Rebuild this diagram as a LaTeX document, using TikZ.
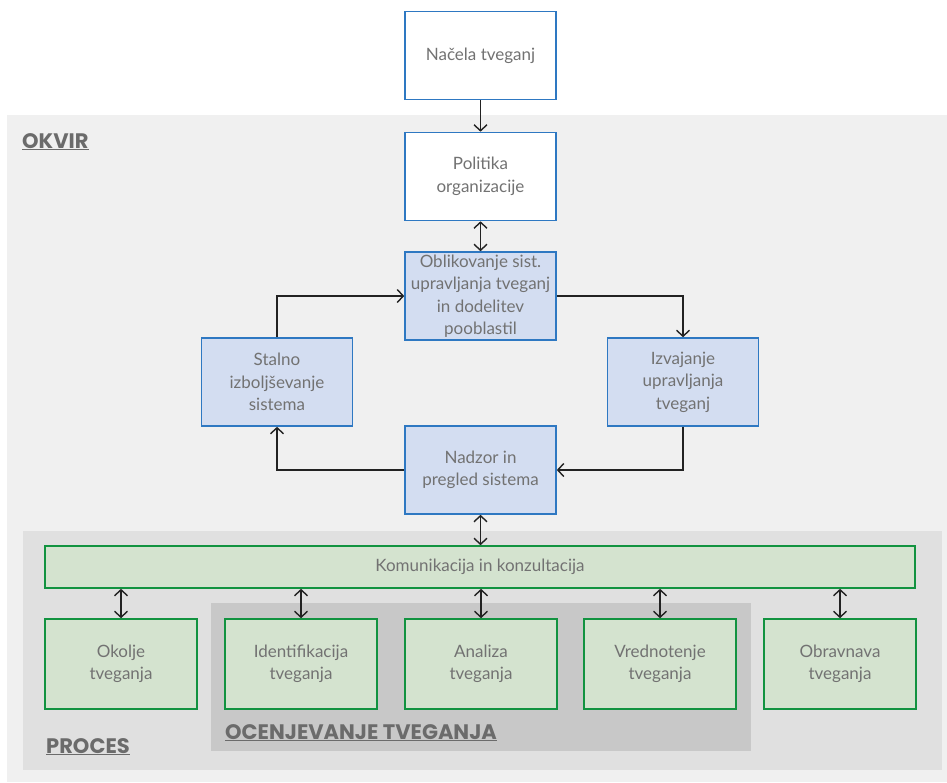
\documentclass[tikz,border=0pt]{standalone}
\usepackage{fontspec}
\setmainfont{Lato}
\newfontfamily\labelfont{Poppins}
\usetikzlibrary{arrows.meta}
\definecolor{okvirbg}{HTML}{F0F0F0}
\definecolor{procesbg}{HTML}{E0E0E0}
\definecolor{ocenbg}{HTML}{C8C8C8}
\definecolor{bluebd}{HTML}{2E78C2}
\definecolor{bluefl}{HTML}{D3DDF1}
\definecolor{greenbd}{HTML}{129340}
\definecolor{greenfl}{HTML}{D4E3CF}
\definecolor{txtgray}{HTML}{727272}
\definecolor{lblgray}{HTML}{6B6B6B}
\definecolor{arrowc}{HTML}{222222}
\tikzset{
  box/.style={draw, line width=1.6pt, minimum width=151pt, minimum height=88pt,
    align=center, text=txtgray, font=\fontsize{17}{22.5}\selectfont, inner sep=2pt},
  whitebox/.style={box, draw=bluebd, fill=white},
  bluebox/.style={box, draw=bluebd, fill=bluefl},
  greenbox/.style={box, draw=greenbd, fill=greenfl, minimum width=152pt, minimum height=90pt},
  conn/.style={draw=arrowc, line width=1.4pt},
  tip/.style={conn, -{Straight Barb[length=6pt,width=13pt,line width=1.4pt]}},
  dtip/.style={conn, {Straight Barb[length=6pt,width=13pt,line width=1.4pt]}-{Straight Barb[length=6pt,width=13pt,line width=1.4pt]}},
  seclabel/.style={anchor=base west, text=lblgray, inner sep=0pt, font=\labelfont\bfseries\fontsize{21}{24}\selectfont},
}
\newcommand{\ulabel}[1]{\underline{#1}}
\begin{document}
\begin{tikzpicture}[x=1pt,y=-1pt]
\useasboundingbox (0,0) rectangle (947,782);
\fill[white] (0,0) rectangle (947,782);
% backgrounds
\fill[okvirbg] (7,115) rectangle (947,782);
\fill[procesbg] (23,531) rectangle (942,770);
\fill[ocenbg] (211,603) rectangle (751,751);
% labels
\node[seclabel] (okvir) at (22,148) {\ulabel{OKVIR}};
\node[seclabel] (proces) at (46,753) {\ulabel{PROCES}};
\node[seclabel] (ocen) at (225,739) {\ulabel{OCENJEVANJE TVEGANJA}};
% top nodes
\node[whitebox] (nacela) at (480.5,55.5) {Načela tveganj};
\node[whitebox] (politika) at (480.5,176.5) {Politika\\organizacije};
\node[bluebox] (oblik) at (480.5,296) {Oblikovanje sist.\\upravljanja tveganj\\in dodelitev\\pooblastil};
\node[bluebox] (stalno) at (277,382) {Stalno\\izboljševanje\\sistema};
\node[bluebox] (izvaj) at (683,382) {Izvajanje\\upravljanja\\tveganj};
\node[bluebox] (nadzor) at (480.5,470) {Nadzor in\\pregled sistema};
% process nodes
\node[greenbox, minimum width=870pt, minimum height=42pt] (komun) at (480,567) {Komunikacija in konzultacija};
\node[greenbox] (okolje) at (121,664) {Okolje\\tveganja};
\node[greenbox] (ident) at (301,664) {Identifikacija\\tveganja};
\node[greenbox] (analiza) at (481,664) {Analiza\\tveganja};
\node[greenbox] (vredn) at (660,664) {Vrednotenje\\tveganja};
\node[greenbox] (obrav) at (840,664) {Obravnava\\tveganja};
% connectors
\draw[tip] (nacela.south) -- (politika.north);
\draw[dtip] (politika.south) -- (oblik.north);
\draw[tip] (oblik.east) -| (izvaj.north);
\draw[tip] (stalno.north) |- (oblik.west);
\draw[tip] (izvaj.south) |- (nadzor.east);
\draw[tip] (nadzor.west) -| (stalno.south);
\draw[dtip] (nadzor.south) -- (komun.north -| nadzor.south);
\foreach \n in {okolje,ident,analiza,vredn,obrav}
  \draw[dtip] (komun.south -| \n.north) -- (\n.north);
\end{tikzpicture}
\end{document}
